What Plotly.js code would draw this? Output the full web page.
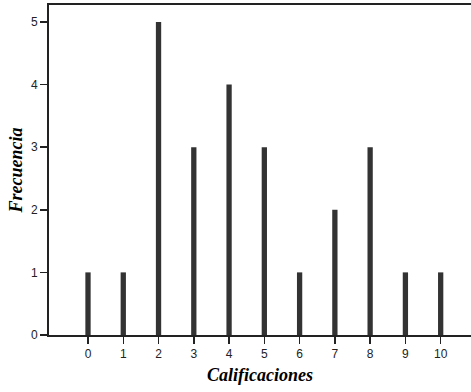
<!DOCTYPE html>
<html>
<head>
<meta charset="utf-8">
<script src="https://cdn.plot.ly/plotly-3.0.1.min.js"></script>
<style>html,body{margin:0;padding:0;background:#fff;}#chart{width:471px;height:392px;}</style>
</head>
<body>
<div id="chart"></div>
<script>
const calificaciones = [0, 1, 2, 3, 4, 5, 6, 7, 8, 9, 10];
const frecuencia = [1, 1, 5, 3, 4, 3, 1, 2, 3, 1, 1];
const yTicks = [0, 1, 2, 3, 4, 5];

const trace = {
  type: 'bar',
  x: calificaciones,
  y: frecuencia,
  width: 0.15,
  marker: {color: '#333333', line: {width: 0}},
  hoverinfo: 'x+y'
};

const layout = {
  width: 471, height: 392,
  margin: {l: 49, r: 0, t: 5, b: 57},
  paper_bgcolor: '#ffffff', plot_bgcolor: '#ffffff',
  showlegend: false,
  font: {family: 'Arial, "Liberation Sans", sans-serif', size: 12, color: '#222'},
  xaxis: {
    range: [-1.106, 10.86],
    tickmode: 'array', tickvals: calificaciones, ticktext: calificaciones.map(String),
    ticks: 'outside', ticklen: 7, tickwidth: 1.5, tickcolor: '#222',
    showline: true, linecolor: '#222', linewidth: 2, mirror: true,
    showgrid: false, zeroline: false,
    tickfont: {size: 12, color: '#222'},
    title: {text: '<b><i>Calificaciones</i></b>', font: {family: '"Times New Roman", "Liberation Serif", serif', size: 18, color: '#000'}, standoff: 8}
  },
  yaxis: {
    range: [0, 5.27],
    tickmode: 'array', tickvals: yTicks, ticktext: yTicks.map(String),
    ticks: 'outside', ticklen: 7, tickwidth: 1.5, tickcolor: '#222',
    showline: true, linecolor: '#222', linewidth: 2,
    showgrid: false, zeroline: false,
    tickfont: {size: 12, color: '#222'},
    title: {text: '<b><i>Frecuencia</i></b>', font: {family: '"Times New Roman", "Liberation Serif", serif', size: 18, color: '#000'}, standoff: 4}
  }
};

Plotly.newPlot('chart', [trace], layout, {displayModeBar: false, staticPlot: true});
</script>
</body>
</html>
